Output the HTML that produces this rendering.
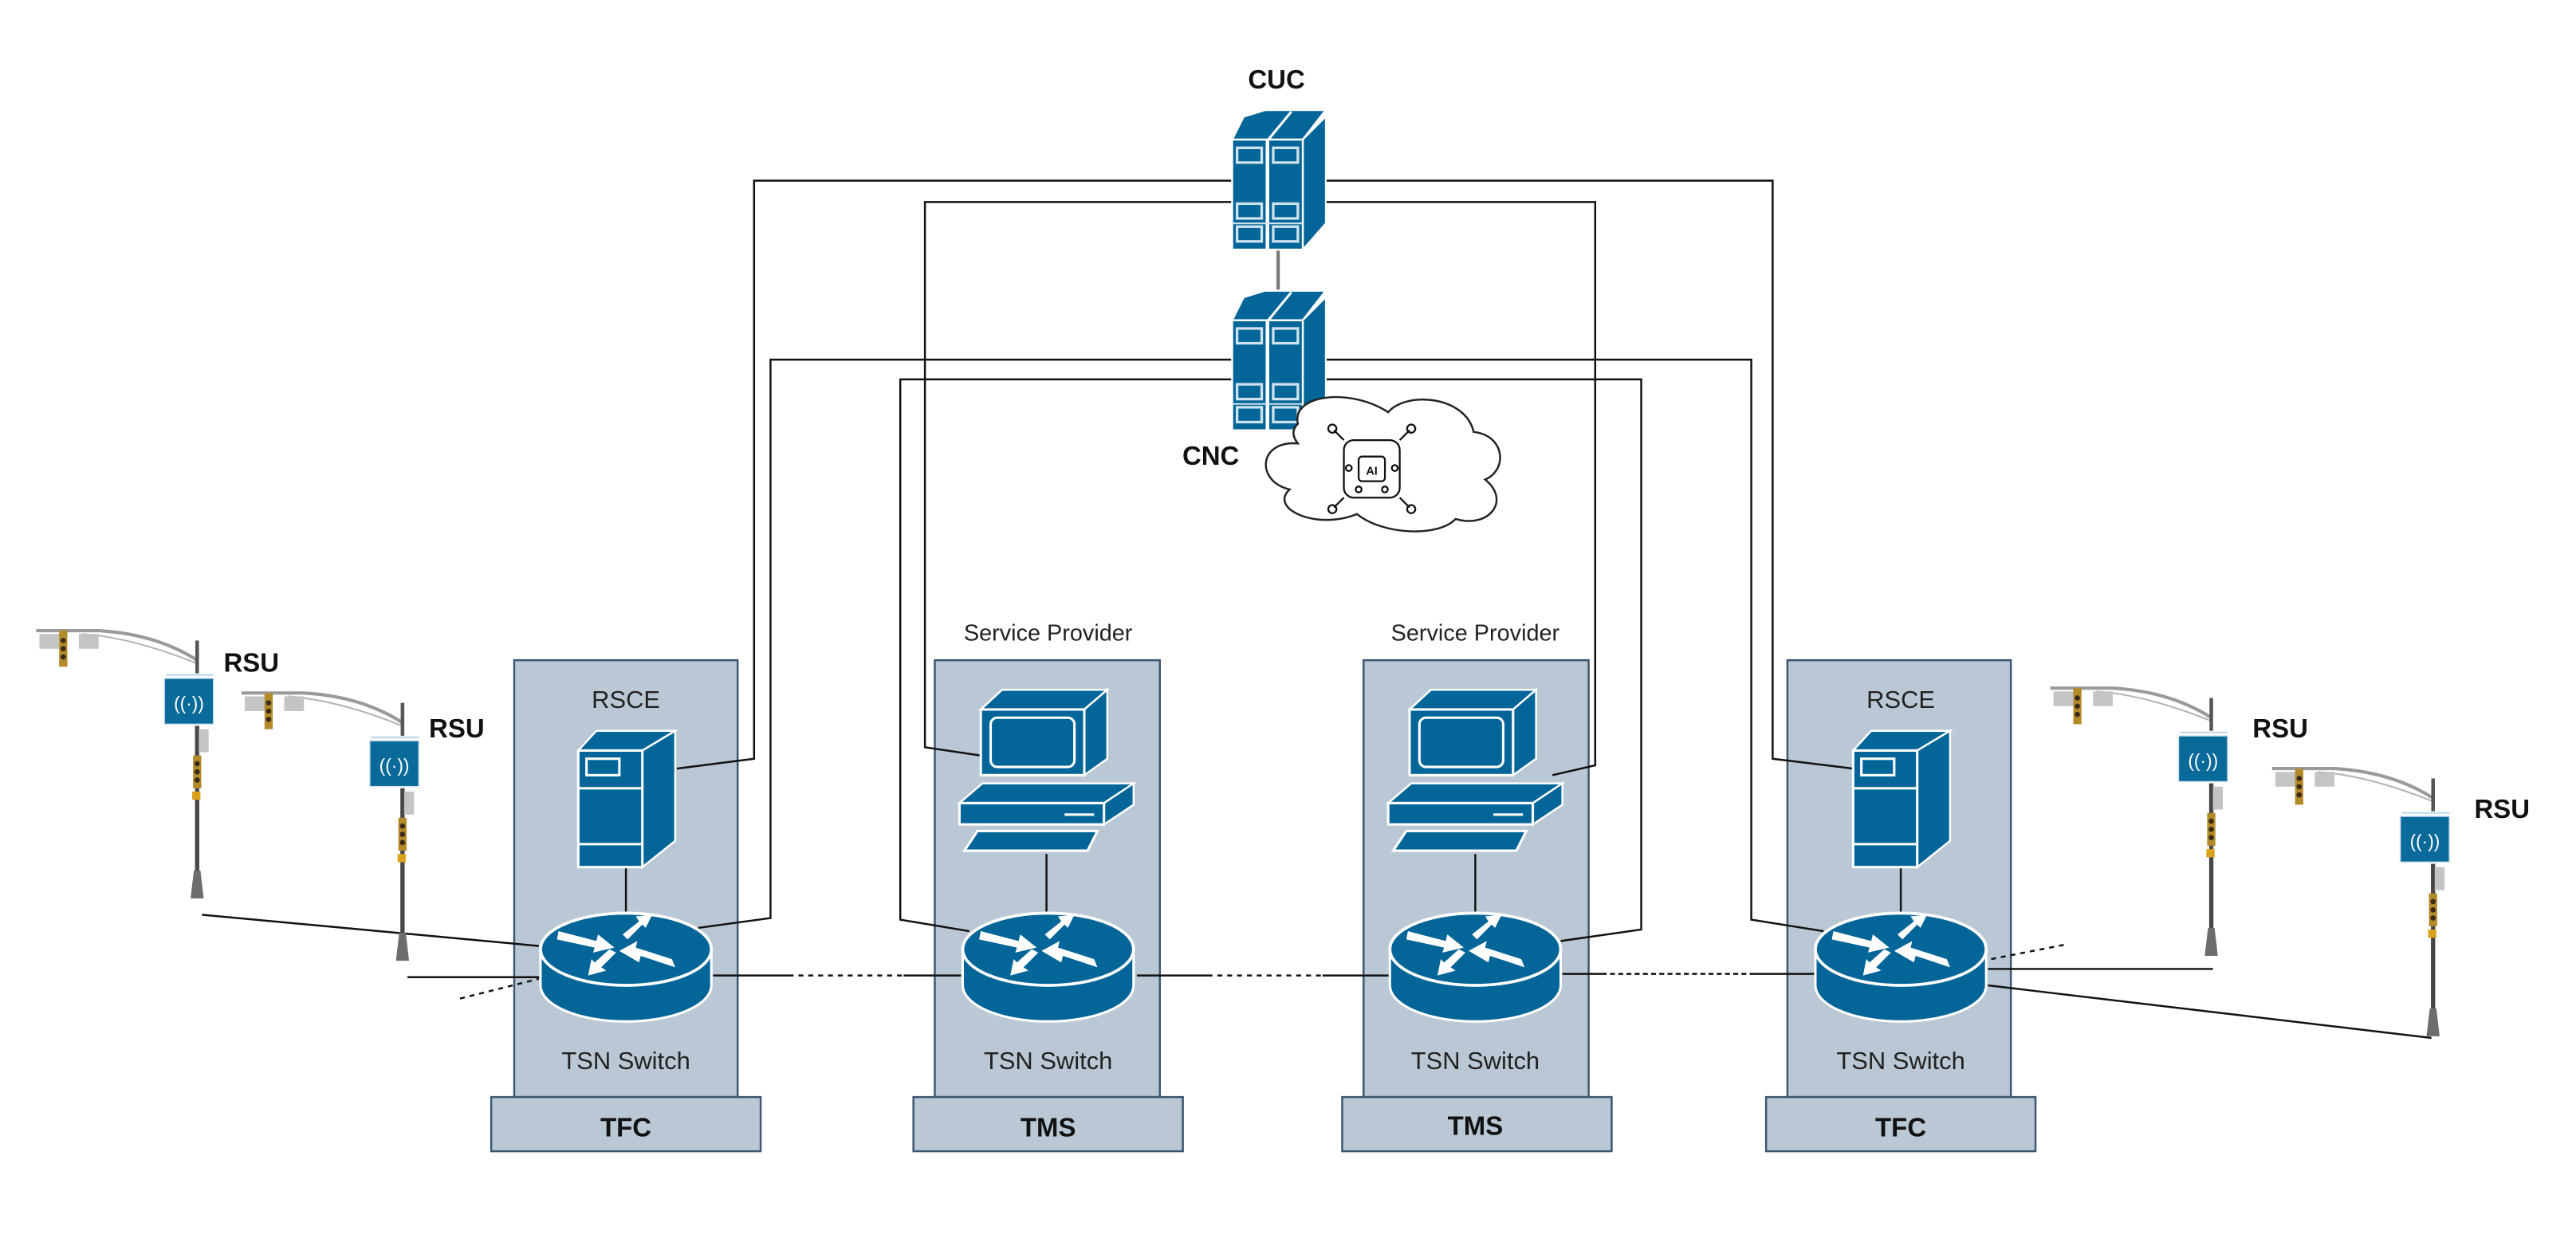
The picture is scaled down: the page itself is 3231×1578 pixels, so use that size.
<!DOCTYPE html>
<html><head><meta charset="utf-8"><style>
html,body{margin:0;padding:0;background:#fff;}
svg{display:block;}
text{font-family:"Liberation Sans",Arial,sans-serif;}
</style></head><body>
<svg width="3231" height="1578" viewBox="0 0 1568 766" preserveAspectRatio="none" xmlns="http://www.w3.org/2000/svg">
<defs>
  <g id="dserver">
    <polygon points="7,3 20,-1 57,-1 43,17 0,17" fill="#036598" stroke="#fff" stroke-width="1.2"/>
    <line x1="22" y1="17" x2="36" y2="0" stroke="#fff" stroke-width="1.5"/>
    <polygon points="43,17 57,3 57,68 43,84" fill="#036598" stroke="#fff" stroke-width="1"/>
    <rect x="0" y="17" width="21" height="67" fill="#036598" stroke="#fff" stroke-width="1.2"/>
    <rect x="22" y="17" width="21" height="67" fill="#036598" stroke="#fff" stroke-width="1.2"/>
    <g fill="#036598" stroke="#cfe2ee" stroke-width="1.6">
      <rect x="3" y="22" width="15" height="9"/><rect x="25" y="22" width="15" height="9"/>
      <rect x="3" y="56" width="15" height="9"/><rect x="25" y="56" width="15" height="9"/>
      <rect x="3" y="70" width="15" height="9"/><rect x="25" y="70" width="15" height="9"/>
    </g>
    <line x1="0" y1="68" x2="43" y2="68" stroke="#cfe2ee" stroke-width="1"/>
  </g>
  <g id="switch">
    <path d="M-52,0 L-52,22 A52,22 0 0 0 52,22 L52,0 Z" fill="#036598" stroke="#fff" stroke-width="1.5"/>
    <ellipse cx="0" cy="0" rx="52" ry="22" fill="#036598" stroke="#fff" stroke-width="1.8"/>
    <g fill="#fff">
      <polygon points="-41,-11 -18,-5 -17,-9 -7,-1 -20,2 -19,-1 -42,-6"/>
      <polygon points="28,6 6,-1 7,-5 -4,1 8,8 9,4 30,11"/>
      <polygon points="-2,-9 8,-17 6,-20 16,-21 12,-13 10,-15 1,-6"/>
      <polygon points="-6,2 -15,11 -12,13 -23,16 -21,6 -19,8 -10,0"/>
    </g>
  </g>
  <g id="pole">
    <path d="M-98,-6 L-60,-6 Q-25,-4 0,12" fill="none" stroke="#9a9a9a" stroke-width="2"/>
    <path d="M-70,-4 Q-40,-2 0,14" fill="none" stroke="#b5b5b5" stroke-width="1"/>
    <rect x="-96" y="-4" width="13" height="9" fill="#c4c4c4"/>
    <rect x="-72" y="-4" width="12" height="9" fill="#c4c4c4"/>
    <rect x="-84" y="-6" width="5" height="22" fill="#b28a2a"/>
    <circle cx="-81.5" cy="0" r="1.6" fill="#3a2a1a"/><circle cx="-81.5" cy="5" r="1.6" fill="#3a2a1a"/><circle cx="-81.5" cy="10" r="1.6" fill="#3a2a1a"/>
    <line x1="0" y1="0" x2="0" y2="20" stroke="#555" stroke-width="2.2"/>
    <line x1="-19" y1="21" x2="10" y2="21" stroke="#bcd7e8" stroke-width="1"/>
    <rect x="-20" y="23" width="30" height="28" fill="#0a6a9a" stroke="#d8e8f2" stroke-width="0.8"/>
    <text x="-5" y="42" font-size="11" fill="#fff" text-anchor="middle">((·))</text>
    <line x1="0" y1="52" x2="0" y2="150" stroke="#4a4545" stroke-width="2.6"/>
    <rect x="1" y="54" width="6" height="14" fill="#c4c4c4"/>
    <rect x="-2.5" y="70" width="5" height="20" fill="#b28a2a"/>
    <circle cx="0" cy="75" r="1.6" fill="#3a2a1a"/><circle cx="0" cy="80" r="1.6" fill="#3a2a1a"/><circle cx="0" cy="85" r="1.6" fill="#3a2a1a"/>
    <rect x="-3" y="92" width="5" height="5" fill="#d9a21a"/>
    <polygon points="-2,140 2,140 4,157 -4,157" fill="#6d6d70"/>
  </g>
</defs>

<!-- Columns -->
<g fill="#b9c8d4" stroke="#3b5670" stroke-width="1.2">
  <rect x="313" y="402" width="136" height="266"/><rect x="299" y="668" width="164" height="33"/>
  <rect x="569" y="402" width="137" height="266"/><rect x="556" y="668" width="164" height="33"/>
  <rect x="830" y="402" width="137" height="266"/><rect x="817" y="668" width="164" height="33"/>
  <rect x="1088" y="402" width="136" height="266"/><rect x="1075" y="668" width="164" height="33"/>
</g>

<!-- backbone lines -->
<g fill="none" stroke="#111" stroke-width="1.2">
  <polyline points="412,468 459,462 459,110 1079,110 1079,462 1128,468"/>
  <polyline points="610,462 563,455 563,123 971,123 971,466 945,472"/>
  <polyline points="425,565 469,559 469,219 1066,219 1066,560 1110,567"/>
  <polyline points="590,567 548,560 548,231 999,231 999,566 950,573"/>
  <line x1="381" y1="528" x2="381" y2="556"/>
  <line x1="637" y1="520" x2="637" y2="556"/>
  <line x1="898" y1="520" x2="898" y2="556"/>
  <line x1="1157" y1="528" x2="1157" y2="556"/>
  <line x1="778" y1="152" x2="778" y2="178" stroke="#777" stroke-width="2"/>
  <!-- horizontal links -->
  <line x1="434" y1="594" x2="480" y2="594"/><line x1="480" y1="594" x2="550" y2="594" stroke-dasharray="3,3"/><line x1="550" y1="594" x2="585" y2="594"/>
  <line x1="692" y1="594" x2="735" y2="594"/><line x1="735" y1="594" x2="805" y2="594" stroke-dasharray="3,3"/><line x1="805" y1="594" x2="846" y2="594"/>
  <line x1="951" y1="593" x2="975" y2="593"/><line x1="975" y1="593" x2="1065" y2="593" stroke-dasharray="3,2"/><line x1="1065" y1="593" x2="1105" y2="593"/>
  <line x1="280" y1="608" x2="328" y2="596" stroke-dasharray="3,3"/>
  <line x1="1212" y1="584" x2="1258" y2="575" stroke-dasharray="3,3"/>
  <line x1="123" y1="557" x2="328" y2="576"/>
  <line x1="248" y1="595" x2="330" y2="595"/>
  <line x1="1210" y1="590" x2="1347" y2="590"/>
  <line x1="1210" y1="600" x2="1480" y2="632"/>
</g>

<!-- Central servers -->
<use href="#dserver" x="750" y="68"/>
<use href="#dserver" x="750" y="178"/>

<!-- Cloud -->
<path d="M790,258 C786,240 822,236 845,251 C856,238 892,241 897,263 C916,265 918,286 904,292 C920,305 906,322 886,316 C876,327 842,326 826,313 C802,323 772,310 785,298 C764,293 766,268 790,270 C786,265 787,261 790,258 Z" fill="#fff" stroke="#222" stroke-width="1.2"/>
<g fill="none" stroke="#111" stroke-width="1.1">
  <rect x="827" y="278" width="16" height="15" rx="2"/>
  <rect x="818" y="268" width="34" height="35" rx="6"/>
  <line x1="818" y1="268" x2="812" y2="262"/><line x1="852" y1="268" x2="858" y2="262"/>
  <line x1="818" y1="303" x2="812" y2="309"/><line x1="852" y1="303" x2="858" y2="309"/>
  <circle cx="811" cy="261" r="2.5"/><circle cx="859" cy="261" r="2.5"/><circle cx="811" cy="310" r="2.5"/><circle cx="859" cy="310" r="2.5"/>
  <circle cx="821" cy="285" r="1.8"/><circle cx="849" cy="285" r="1.8"/><circle cx="827" cy="298" r="1.8"/><circle cx="843" cy="298" r="1.8"/>
</g>
<text x="835" y="289" font-size="7" font-weight="bold" text-anchor="middle" fill="#111">AI</text>

<!-- RSCE servers -->
<g id="rsce">
  <polygon points="352,457 363,445 411,445 391,457" fill="#036598" stroke="#fff" stroke-width="1.2"/>
  <polygon points="391,457 411,445 411,512 391,528" fill="#036598" stroke="#fff" stroke-width="1.2"/>
  <rect x="352" y="457" width="39" height="71" fill="#036598" stroke="#fff" stroke-width="1.5"/>
  <rect x="357" y="462" width="20" height="10" fill="#036598" stroke="#fff" stroke-width="1.5"/>
  <line x1="352" y1="480" x2="391" y2="480" stroke="#fff" stroke-width="1.5"/>
  <line x1="352" y1="514" x2="391" y2="514" stroke="#fff" stroke-width="1.5"/>
</g>
<use href="#rsce" x="776" y="0"/>

<!-- computers -->
<g id="pc">
  <polygon points="597,432 610,420 674,420 660,432" fill="#036598" stroke="#fff" stroke-width="1.2"/>
  <polygon points="660,432 674,420 674,462 660,472" fill="#036598" stroke="#fff" stroke-width="1.2"/>
  <rect x="597" y="432" width="63" height="40" fill="#036598" stroke="#fff" stroke-width="1.5"/>
  <rect x="603" y="437" width="51" height="30" rx="4" fill="#036598" stroke="#fff" stroke-width="1.5"/>
  <polygon points="584,489 598,477 690,477 672,489" fill="#036598" stroke="#fff" stroke-width="1.2"/>
  <polygon points="672,489 690,477 690,490 672,502" fill="#036598" stroke="#fff" stroke-width="1.2"/>
  <rect x="584" y="489" width="88" height="13" fill="#036598" stroke="#fff" stroke-width="1.5"/>
  <line x1="648" y1="496" x2="666" y2="496" stroke="#fff" stroke-width="1.5"/>
  <polygon points="587,518 595,506 668,506 662,518" fill="#036598" stroke="#fff" stroke-width="1.5"/>
</g>
<use href="#pc" x="261" y="0"/>

<!-- switches -->
<use href="#switch" x="381" y="578"/>
<use href="#switch" x="638" y="578"/>
<use href="#switch" x="898" y="578"/>
<use href="#switch" x="1157" y="578"/>

<!-- poles -->
<use href="#pole" x="120" y="390"/>
<use href="#pole" x="245" y="428"/>
<use href="#pole" x="1346" y="425"/>
<use href="#pole" x="1481" y="474"/>

<!-- labels -->
<g font-size="15" fill="#222" text-anchor="middle">
  <text x="381" y="431">RSCE</text><text x="1157" y="431">RSCE</text>
  <text x="381" y="651">TSN Switch</text><text x="638" y="651">TSN Switch</text>
  <text x="898" y="651">TSN Switch</text><text x="1157" y="651">TSN Switch</text>
  <text x="638" y="390" font-size="14">Service Provider</text>
  <text x="898" y="390" font-size="14">Service Provider</text>
</g>
<g font-size="16" font-weight="bold" fill="#111" text-anchor="middle">
  <text x="381" y="692">TFC</text><text x="638" y="692">TMS</text>
  <text x="898" y="691">TMS</text><text x="1157" y="692">TFC</text>
  <text x="777" y="54">CUC</text><text x="737" y="283">CNC</text>
  <text x="153" y="409">RSU</text><text x="278" y="449">RSU</text>
  <text x="1388" y="449">RSU</text><text x="1523" y="498">RSU</text>
</g>
</svg>
</body></html>
